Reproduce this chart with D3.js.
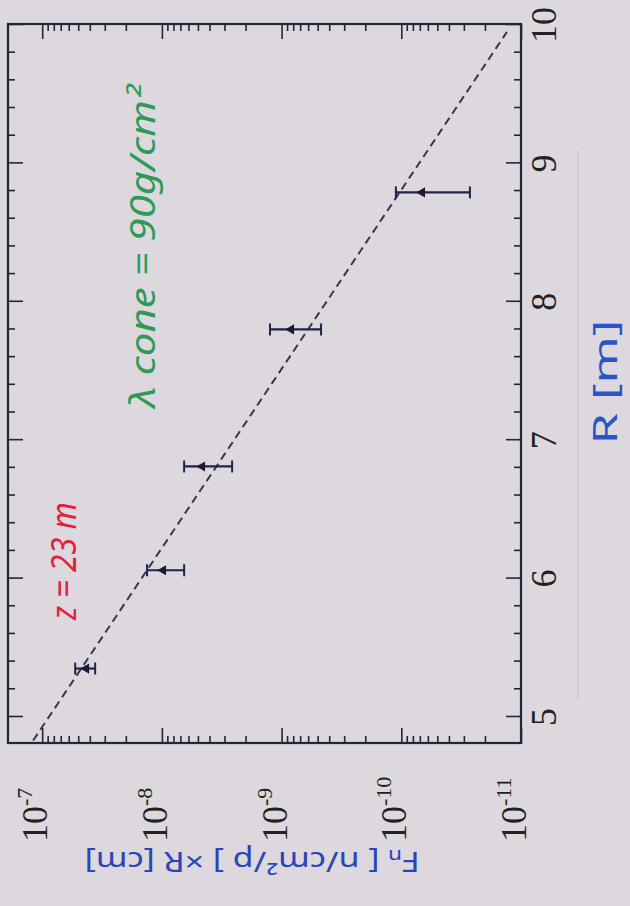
<!DOCTYPE html>
<html>
<head>
<meta charset="utf-8">
<script src="https://cdn.jsdelivr.net/npm/d3@7"></script>
<style>
html,body{margin:0;padding:0;background:#dcd8dd;}
svg{display:block;}
</style>
</head>
<body>
<svg id="chart" width="630" height="906"></svg>
<script>
// ---- data ----
const radius = [5.35, 6.06, 6.81, 7.80, 8.79];                 // R [m]
const flux = [4.29e-8, 9.77e-9, 4.61e-9, 8.33e-10, 6.71e-11];  // Fn x R
const fluxUpper = [5.30e-8, 1.33e-8, 6.52e-9, 1.25e-9, 1.11e-10];
const fluxLower = [3.61e-8, 6.52e-9, 2.59e-9, 4.68e-10, 2.67e-11];
const fitRadius = [4.83, 9.95];
const fitFlux = [1.19e-7, 1.31e-11];
const rTicks = [5, 6, 7, 8, 9, 10];
const fTicks = [1e-7, 1e-8, 1e-9, 1e-10, 1e-11];
const fTickExp = ["-7", "-8", "-9", "-10", "-11"];
const xTitle = "R [m]";
const yTitle = "[ n/cm²/p ] ×R [cm]";
const noteZ = "z = 23 m";
const noteLambda = "λ cone = 90g/cm²";

// ---- layout ----
const svg = d3.select("#chart");
svg.append("rect").attr("width", 630).attr("height", 906).attr("fill", "#dcd8dd");
// faint paper artifact line
svg.append("line").attr("x1", 578).attr("x2", 578).attr("y1", 150).attr("y2", 700)
  .attr("stroke", "#b8aab8").attr("stroke-width", 1).attr("opacity", 0.5);

const W = 719, H = 513; // unrotated plot size
const g = svg.append("g").attr("transform", "translate(8,743) rotate(-90)");

const xR = d3.scaleLinear().domain([4.812, 10.007]).range([0, W]);
const yF = d3.scaleLog().domain([1.93e-7, 1e-11]).range([0, H]);

const ink = "#27233d";
const majorLen = 15, minorLen = 7;

const rMinor = d3.range(5, 10.001, 0.2).filter(v => Math.abs(v - Math.round(v)) > 1e-6);
const fMinor = yF.ticks().filter(v => {
  const l = Math.log10(v); return Math.abs(l - Math.round(l)) > 1e-6;
});

function styleAxis(sel) {
  sel.select(".domain").remove();
  sel.selectAll(".tick line").attr("stroke", ink).attr("stroke-width", 1.6);
  sel.selectAll(".tick text").remove();
}
// R axis, both sides (screen right and left frames)
g.append("g").attr("transform", `translate(0,${H})`)
  .call(d3.axisBottom(xR).tickValues(rTicks).tickSize(-majorLen)).call(styleAxis);
g.append("g").attr("transform", `translate(0,${H})`)
  .call(d3.axisBottom(xR).tickValues(rMinor).tickSize(-minorLen)).call(styleAxis);
g.append("g")
  .call(d3.axisTop(xR).tickValues(rTicks).tickSize(-majorLen)).call(styleAxis);
g.append("g")
  .call(d3.axisTop(xR).tickValues(rMinor).tickSize(-minorLen)).call(styleAxis);
// F axis, both sides (screen bottom and top frames)
g.append("g")
  .call(d3.axisLeft(yF).tickValues(fTicks).tickSize(-majorLen)).call(styleAxis);
g.append("g")
  .call(d3.axisLeft(yF).tickValues(fMinor).tickSize(-minorLen)).call(styleAxis);
g.append("g").attr("transform", `translate(${W},0)`)
  .call(d3.axisRight(yF).tickValues(fTicks).tickSize(-majorLen)).call(styleAxis);
g.append("g").attr("transform", `translate(${W},0)`)
  .call(d3.axisRight(yF).tickValues(fMinor).tickSize(-minorLen)).call(styleAxis);

// frame
g.append("rect").attr("x", 0).attr("y", 0).attr("width", W).attr("height", H)
  .attr("fill", "none").attr("stroke", ink).attr("stroke-width", 2.2);

// R tick labels
g.selectAll(".rlab").data(rTicks).enter().append("text")
  .attr("x", d => xR(d)).attr("y", H + 35)
  .attr("text-anchor", "middle")
  .attr("font-family", "'Liberation Serif','DejaVu Serif',serif")
  .attr("font-size", 36).attr("fill", "#222")
  .text(d => d);

// F tick labels (10^exp)
const fl = g.selectAll(".flab").data(fTicks).enter().append("text")
  .attr("x", -99).attr("y", d => yF(d) + 5)
  .attr("text-anchor", "start")
  .attr("font-family", "'Liberation Serif','DejaVu Serif',serif")
  .attr("font-size", 36).attr("fill", "#222");
fl.append("tspan").text("10");
fl.append("tspan").attr("dy", -15).attr("font-size", 22).text((d, i) => fTickExp[i]);

// fit line
const line = d3.line().x(d => xR(d[0])).y(d => yF(d[1]));
g.append("path").datum(fitRadius.map((r, i) => [r, fitFlux[i]]))
  .attr("d", line).attr("fill", "none").attr("stroke", "#3b3458")
  .attr("stroke-width", 2).attr("stroke-dasharray", "8,5");

// error bars
const pts = radius.map((r, i) => ({r, f: flux[i], hi: fluxUpper[i], lo: fluxLower[i]}));
const eb = g.selectAll(".eb").data(pts).enter().append("g");
eb.append("line").attr("x1", d => xR(d.r)).attr("x2", d => xR(d.r))
  .attr("y1", d => yF(d.hi)).attr("y2", d => yF(d.lo))
  .attr("stroke", "#25204a").attr("stroke-width", 2.2);
eb.append("line").attr("x1", d => xR(d.r) - 6).attr("x2", d => xR(d.r) + 6)
  .attr("y1", d => yF(d.hi)).attr("y2", d => yF(d.hi))
  .attr("stroke", "#25204a").attr("stroke-width", 2);
eb.append("line").attr("x1", d => xR(d.r) - 6).attr("x2", d => xR(d.r) + 6)
  .attr("y1", d => yF(d.lo)).attr("y2", d => yF(d.lo))
  .attr("stroke", "#25204a").attr("stroke-width", 2);
eb.append("path")
  .attr("transform", d => `translate(${xR(d.r)},${yF(d.f)})`)
  .attr("d", d3.symbol(d3.symbolTriangle, 45))
  .attr("fill", "#1d1a30");

// handwritten annotations
const hand = "'Noto Sans','DejaVu Sans',sans-serif";
// x title (R [m]) - screen right
g.append("text")
  .attr("x", xR(7.42)).attr("y", 596)
  .attr("text-anchor", "middle").attr("dominant-baseline", "central")
  .attr("font-family", hand).attr("font-size", 32).attr("fill", "#2a55c8")
  .attr("textLength", 125).attr("lengthAdjust", "spacingAndGlyphs")
  .text(xTitle);
// y title - upside down at screen bottom
const yt = g.append("text")
  .attr("transform", `translate(-120,${yF(1.76e-9)}) rotate(-90)`)
  .attr("text-anchor", "middle").attr("dominant-baseline", "central")
  .attr("font-family", hand).attr("font-size", 27).attr("fill", "#2a45b8");
yt.append("tspan").text("F");
yt.append("tspan").attr("font-size", 18).attr("dy", 6).text("n");
yt.append("tspan").attr("dy", -6).text(" " + yTitle);
yt.attr("textLength", 335).attr("lengthAdjust", "spacingAndGlyphs");
// red note
g.append("text")
  .attr("x", xR(5.7)).attr("y", 55)
  .attr("text-anchor", "start").attr("dominant-baseline", "central")
  .attr("font-family", hand).attr("font-style", "italic")
  .attr("font-size", 34).attr("fill", "#e3203c")
  .attr("textLength", 118).attr("lengthAdjust", "spacingAndGlyphs")
  .text(noteZ);
// green note
g.append("text")
  .attr("x", xR(7.23)).attr("y", 134)
  .attr("text-anchor", "start").attr("dominant-baseline", "central")
  .attr("font-family", hand).attr("font-style", "italic")
  .attr("font-size", 34).attr("fill", "#2e9a55")
  .attr("textLength", 323).attr("lengthAdjust", "spacingAndGlyphs")
  .text(noteLambda);
</script>
</body>
</html>
